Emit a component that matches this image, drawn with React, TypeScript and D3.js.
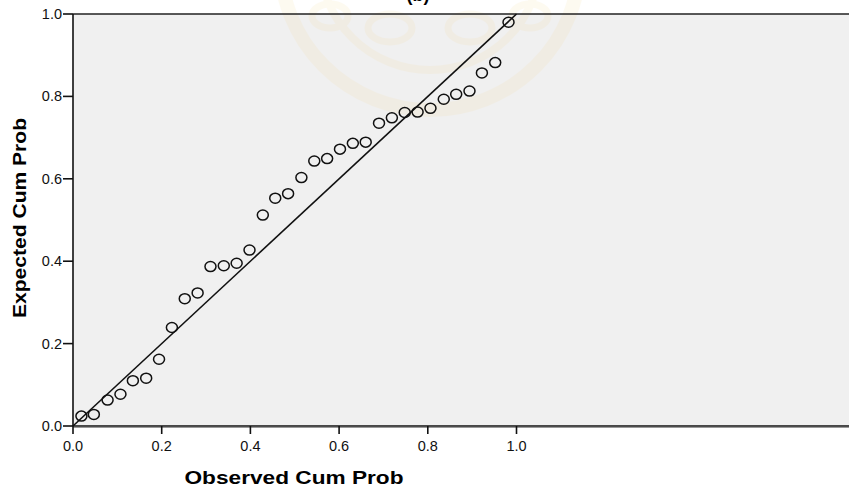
import React from 'react'
import * as d3 from 'd3'

const width = 849
const height = 489

// observed cumulative probability (x) and expected cumulative probability (y)
const observed = [
  0.019, 0.047, 0.078, 0.107, 0.135, 0.165, 0.194, 0.223, 0.252, 0.281,
  0.31, 0.34, 0.369, 0.398, 0.428, 0.456, 0.485, 0.515, 0.544, 0.573,
  0.602, 0.631, 0.66, 0.69, 0.719, 0.748, 0.777, 0.806, 0.836, 0.864,
  0.894, 0.922, 0.952, 0.982
]
const expected = [
  0.024, 0.028, 0.063, 0.077, 0.11, 0.116, 0.162, 0.239, 0.309, 0.323,
  0.387, 0.389, 0.395, 0.427, 0.512, 0.553, 0.564, 0.603, 0.643, 0.649,
  0.672, 0.686, 0.689, 0.735, 0.748, 0.761, 0.762, 0.771, 0.793, 0.805,
  0.813, 0.857, 0.882, 0.98
]
const tickValues = [0, 0.2, 0.4, 0.6, 0.8, 1.0]
const referenceLine: [number, number][] = [[0, 0], [1, 1]]

const margin = { left: 73, top: 14, bottom: 426 }

const App = () => {
  const x = d3.scaleLinear().domain([0, 1.75]).range([margin.left, margin.left + 443.5 * 1.75])
  const y = d3.scaleLinear().domain([0, 1]).range([margin.bottom, margin.top])
  const line = d3.line<[number, number]>().x(d => x(d[0])).y(d => y(d[1]))
  const fmt = d3.format('.1f')
  const points = observed.map((o, i) => ({ o, e: expected[i] }))

  return (
    <svg
      width={width}
      height={height}
      style={{ position: 'absolute', left: 0, top: 0, fontFamily: 'Liberation Sans, Arial, sans-serif' }}
    >
      <rect x={0} y={0} width={width} height={height} fill="#fff" />
      <rect x={margin.left} y={margin.top} width={width - margin.left} height={margin.bottom - margin.top} fill="#f0f0f0" />

      {/* faint watermark */}
      <g fill="none" stroke="#f3d27a" opacity={0.1}>
        <circle cx={430} cy={-40} r={150} strokeWidth={14} />
        <circle cx={430} cy={-40} r={110} strokeWidth={8} />
        <ellipse cx={390} cy={28} rx={22} ry={14} strokeWidth={7} />
        <ellipse cx={470} cy={28} rx={22} ry={14} strokeWidth={7} />
        <ellipse cx={330} cy={16} rx={18} ry={12} strokeWidth={7} />
        <ellipse cx={530} cy={16} rx={18} ry={12} strokeWidth={7} />
      </g>

      <text x={418} y={1} textAnchor="middle" fontSize={18} fontWeight="bold">(b)</text>

      {/* frame */}
      <line x1={margin.left} x2={width} y1={margin.top} y2={margin.top} stroke="#222" strokeWidth={1.3} />
      <line x1={margin.left} x2={width} y1={margin.bottom} y2={margin.bottom} stroke="#111" strokeWidth={1.6} />
      <line x1={margin.left} x2={width} y1={margin.bottom + 1.5} y2={margin.bottom + 1.5} stroke="#999" strokeWidth={1} />
      <line x1={margin.left} x2={margin.left} y1={margin.top} y2={margin.bottom} stroke="#111" strokeWidth={1.6} />

      {/* y axis */}
      {tickValues.map(t => (
        <g key={'y' + t}>
          <line x1={margin.left - 10} x2={margin.left} y1={y(t)} y2={y(t)} stroke="#111" strokeWidth={1.6} />
          <text x={margin.left - 11} y={y(t) + 5} textAnchor="end" fontSize={14.5} fill="#111">{fmt(t)}</text>
        </g>
      ))}

      {/* x axis */}
      {tickValues.map(t => (
        <g key={'x' + t}>
          <line x1={x(t)} x2={x(t)} y1={margin.bottom} y2={margin.bottom + 8} stroke="#111" strokeWidth={1.6} />
          <text x={x(t)} y={451} textAnchor="middle" fontSize={14.5} fill="#111">{fmt(t)}</text>
        </g>
      ))}

      <path d={line(referenceLine) ?? ''} fill="none" stroke="#111" strokeWidth={1.6} />

      {points.map((p, i) => (
        <ellipse key={i} cx={x(p.o)} cy={y(p.e)} rx={5.5} ry={5} fill="none" stroke="#111" strokeWidth={1.5} />
      ))}

      <text x={294} y={484} textAnchor="middle" fontSize={18} fontWeight="bold" textLength={219} lengthAdjust="spacingAndGlyphs">
        Observed Cum Prob
      </text>
      <text
        transform="translate(26,218) rotate(-90)"
        textAnchor="middle"
        fontSize={18}
        fontWeight="bold"
        textLength={200}
        lengthAdjust="spacingAndGlyphs"
      >
        Expected Cum Prob
      </text>
    </svg>
  )
}

export default App
